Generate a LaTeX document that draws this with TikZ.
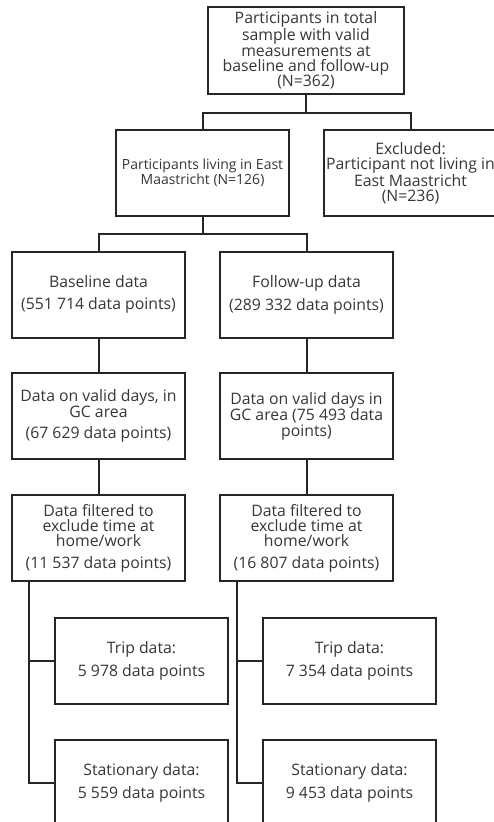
\documentclass[tikz,border=0pt]{standalone}
\usepackage{fontspec}
\setmainfont{Open Sans}
\usetikzlibrary{calc}
\definecolor{ink}{HTML}{262626}
\definecolor{txt}{HTML}{363636}
\tikzset{
  box/.style={draw=ink, line width=2pt, minimum width=173pt, minimum height=86pt,
    inner sep=0pt, align=center, text=txt, font=\fontsize{15.8}{15.3}\selectfont},
  conn/.style={draw=ink, line width=2pt},
}
\begin{document}
\begin{tikzpicture}[x=1pt,y=-1pt]
\useasboundingbox (0,0) rectangle (494,822);
\clip (0,0) rectangle (494,822);
\node[box, minimum width=196pt, minimum height=87pt] (top) at (306,50.5)
  {Participants in total\\sample with valid\\measurements at\\baseline and follow-up\\(N=362)};
\node[box, font=\fontsize{14}{13.3}\selectfont] (east) at (202.5,173)
  {Participants living in East\\Maastricht (N=126)};
\node[box] (excl) at (410.5,173)
  {Excluded:\\Participant not living in\\East Maastricht\\(N=236)};
\node[box] (baseL) at (98.5,294.5) {Baseline data\\[6pt](551 714 data points)};
\node[box] (baseR) at (306.5,294.5) {Follow-up data\\[6pt](289 332 data points)};
\node[box] (validL) at (98.5,416) {Data on valid days, in\\GC area\\[6pt](67 629 data points)};
\node[box] (validR) at (306.5,416) {Data on valid days in\\GC area (75 493 data\\points)};
\node[box] (filtL) at (98.5,538) {Data filtered to\\exclude time at\\home/work\\[6pt](11 537 data points)};
\node[box] (filtR) at (306.5,538) {Data filtered to\\exclude time at\\home/work\\[6pt](16 807 data points)};
\node[box] (tripL) at (141.5,660.5) {Trip data:\\[6pt]5 978 data points};
\node[box] (tripR) at (349.5,660.5) {Trip data:\\[6pt]7 354 data points};
\node[box] (statL) at (141.5,782.5) {Stationary data:\\[6pt]5 559 data points};
\node[box] (statR) at (349.5,782.5) {Stationary data:\\[6pt]9 453 data points};
% connectors
\coordinate (j1) at ($(top.south)+(0,18)$);
\draw[conn] (top.south) -- (j1);
\draw[conn] (east.north) |- (j1) -| (excl.north);
\coordinate (j2) at ($(east.south)+(0,17)$);
\draw[conn] (east.south) -- (j2);
\draw[conn] (baseL.north) |- (j2) -| (baseR.north);
\draw[conn] (baseL) -- (validL);
\draw[conn] (baseR) -- (validR);
\draw[conn] (validL) -- (filtL);
\draw[conn] (validR) -- (filtR);
\coordinate (spL) at ($(filtL.south west)+(18,0)$);
\coordinate (spR) at ($(filtR.south west)+(18,0)$);
\draw[conn] (spL) |- (tripL.west);
\draw[conn] (spL) |- (statL.west);
\draw[conn] (spR) |- (tripR.west);
\draw[conn] (spR) |- (statR.west);
\end{tikzpicture}
\end{document}
